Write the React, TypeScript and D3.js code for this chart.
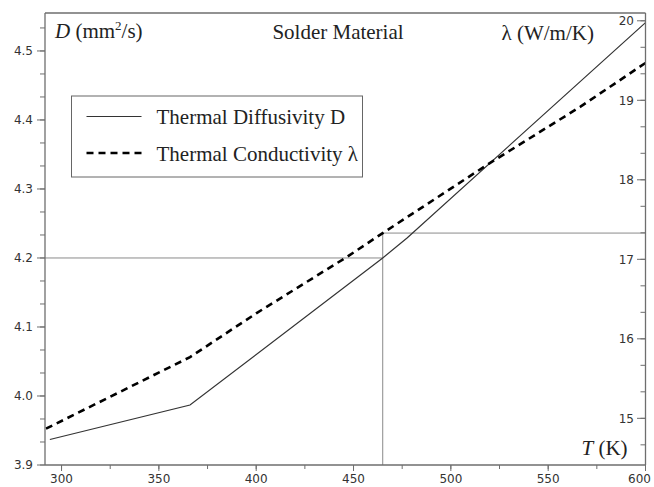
import React from "react";
import * as d3 from "d3";

// ---- data ----
const tempD = [294, 366, 465, 477.5, 600];
const diffusivity = [3.937, 3.987, 4.2, 4.229, 4.541];
const tempL = [292, 366, 400, 446.6, 465, 520, 566.6, 600];
const conductivity = [14.87, 15.77, 16.32, 17.03, 17.33, 18.21, 18.92, 19.47];

const xTicks = [300, 350, 400, 450, 500, 550, 600];
const leftTicks = [3.9, 4.0, 4.1, 4.2, 4.3, 4.4, 4.5];
const rightTicks = [15, 16, 17, 18, 19, 20];

const refT = 465;
const refD = 4.2;
const refLambda = 17.33;

const W = 654;
const H = 487;
const L = 45;
const R = 645.5;
const T = 13;
const B = 465;

const SERIF = "'Liberation Serif', 'Times New Roman', serif";
const SANS = "'DejaVu Sans', sans-serif";

export default function App() {
  const x = d3.scaleLinear().domain([291.5, 600]).range([L, R]);
  const yL = d3.scaleLinear().domain([3.9, 4.555]).range([B, T]);
  const yR = d3.scaleLinear().domain([14.413, 20.098]).range([B, T]);

  const lineD = d3
    .line<number>()
    .x((_, i) => x(tempD[i]))
    .y((d) => yL(d));
  const lineL = d3
    .line<number>()
    .x((_, i) => x(tempL[i]))
    .y((d) => yR(d));

  const xMinor = d3.range(275, 626, 25).filter((v) => x(v) >= L - 0.5 && x(v) <= R + 0.5);
  const leftMinor = d3.range(0, 30).map((i) => 3.9 + i * (0.1 / 3)).filter((v) => yL(v) >= T && yL(v) <= B);
  const rightMinor = d3.range(-3, 30).map((i) => 14 + i / 3).filter((v) => yR(v) >= T && yR(v) <= B);

  const axisColor = "#6e6e6e";
  const tickText = "#333";

  return (
    <svg
      width={W}
      height={H}
      style={{ position: "absolute", left: 0, top: 0, background: "#fff" }}
    >
      <rect x={0} y={0} width={W} height={H} fill="#fff" />

      {/* reference lines */}
      <g stroke="#8a8a8a" strokeWidth={1} fill="none">
        <line x1={L} x2={x(refT)} y1={yL(refD)} y2={yL(refD)} />
        <line x1={x(refT)} x2={x(refT)} y1={B} y2={yR(refLambda)} />
        <line x1={x(refT)} x2={R} y1={yR(refLambda)} y2={yR(refLambda)} />
      </g>

      {/* data lines */}
      <path d={lineD(diffusivity) || ""} fill="none" stroke="#333" strokeWidth={1.2} />
      <path
        d={lineL(conductivity) || ""}
        fill="none"
        stroke="#000"
        strokeWidth={2.6}
        strokeDasharray="7,5"
      />

      {/* frame */}
      <g stroke={axisColor} strokeWidth={1.3} fill="none">
        <line x1={L} x2={L} y1={T} y2={B} />
        <line x1={L} x2={R} y1={B} y2={B} />
        <line x1={R} x2={R} y1={T} y2={B} />
        <line x1={L} x2={R} y1={T} y2={T} />
      </g>

      {/* left axis ticks */}
      <g stroke={axisColor} strokeWidth={1}>
        {leftMinor.map((v, i) => (
          <line key={"lm" + i} x1={L - 5} x2={L} y1={yL(v)} y2={yL(v)} />
        ))}
        {leftTicks.map((v) => (
          <line key={"lt" + v} x1={L - 8} x2={L} y1={yL(v)} y2={yL(v)} />
        ))}
      </g>
      <g fontFamily={SANS} fontSize={12} fill={tickText} textAnchor="end">
        {leftTicks.map((v) => (
          <text key={"ll" + v} x={L - 12} y={yL(v)} dy="0.36em">
            {v.toFixed(1)}
          </text>
        ))}
      </g>

      {/* right axis ticks (inside) */}
      <g stroke={axisColor} strokeWidth={1}>
        {rightMinor.map((v, i) => (
          <line key={"rm" + i} x1={R - 5} x2={R} y1={yR(v)} y2={yR(v)} />
        ))}
        {rightTicks.map((v) => (
          <line key={"rt" + v} x1={R - 8.5} x2={R} y1={yR(v)} y2={yR(v)} />
        ))}
      </g>
      <g fontFamily={SANS} fontSize={12} fill={tickText} textAnchor="end">
        {rightTicks.map((v) => (
          <text key={"rl" + v} x={R - 11.5} y={yR(v)} dy="0.36em">
            {String(v)}
          </text>
        ))}
      </g>

      {/* bottom axis ticks */}
      <g stroke={axisColor} strokeWidth={1}>
        {xMinor.map((v) => (
          <line key={"xm" + v} x1={x(v)} x2={x(v)} y1={B} y2={B + 4} />
        ))}
        {xTicks.map((v) => (
          <line key={"xt" + v} x1={x(v)} x2={x(v)} y1={B} y2={B + 6} />
        ))}
      </g>
      <g fontFamily={SANS} fontSize={12} fill={tickText} textAnchor="middle">
        {xTicks.map((v) => (
          <text key={"xl" + v} x={v === 600 ? x(v) - 6 : x(v)} y={483}>
            {String(v)}
          </text>
        ))}
      </g>

      {/* axis titles */}
      <g fontFamily={SERIF} fontSize={21} fill="#222">
        <text x={55} y={37.5}>
          <tspan fontStyle="italic">D</tspan>
          <tspan> (mm</tspan>
          <tspan fontSize={13} dy={-8}>2</tspan>
          <tspan dy={8}>/s)</tspan>
        </text>
        <text x={338} y={39} textAnchor="middle">
          Solder Material
        </text>
        <text x={501.5} y={40}>
          λ (W/m/K)
        </text>
        <text x={581.5} y={455}>
          <tspan fontStyle="italic">T</tspan>
          <tspan> (K)</tspan>
        </text>
      </g>

      {/* legend */}
      <rect x={71.5} y={96} width={291} height={81} fill="#fff" stroke="#666" strokeWidth={1} />
      <line x1={86.5} x2={141.5} y1={116.5} y2={116.5} stroke="#333" strokeWidth={1.2} />
      <line
        x1={86.5}
        x2={141.5}
        y1={153}
        y2={153}
        stroke="#000"
        strokeWidth={2.6}
        strokeDasharray="7,5"
      />
      <g fontFamily={SERIF} fontSize={21} fill="#222">
        <text x={156.5} y={124}>
          Thermal Diffusivity D
        </text>
        <text x={156.5} y={161}>
          Thermal Conductivity λ
        </text>
      </g>
    </svg>
  );
}
